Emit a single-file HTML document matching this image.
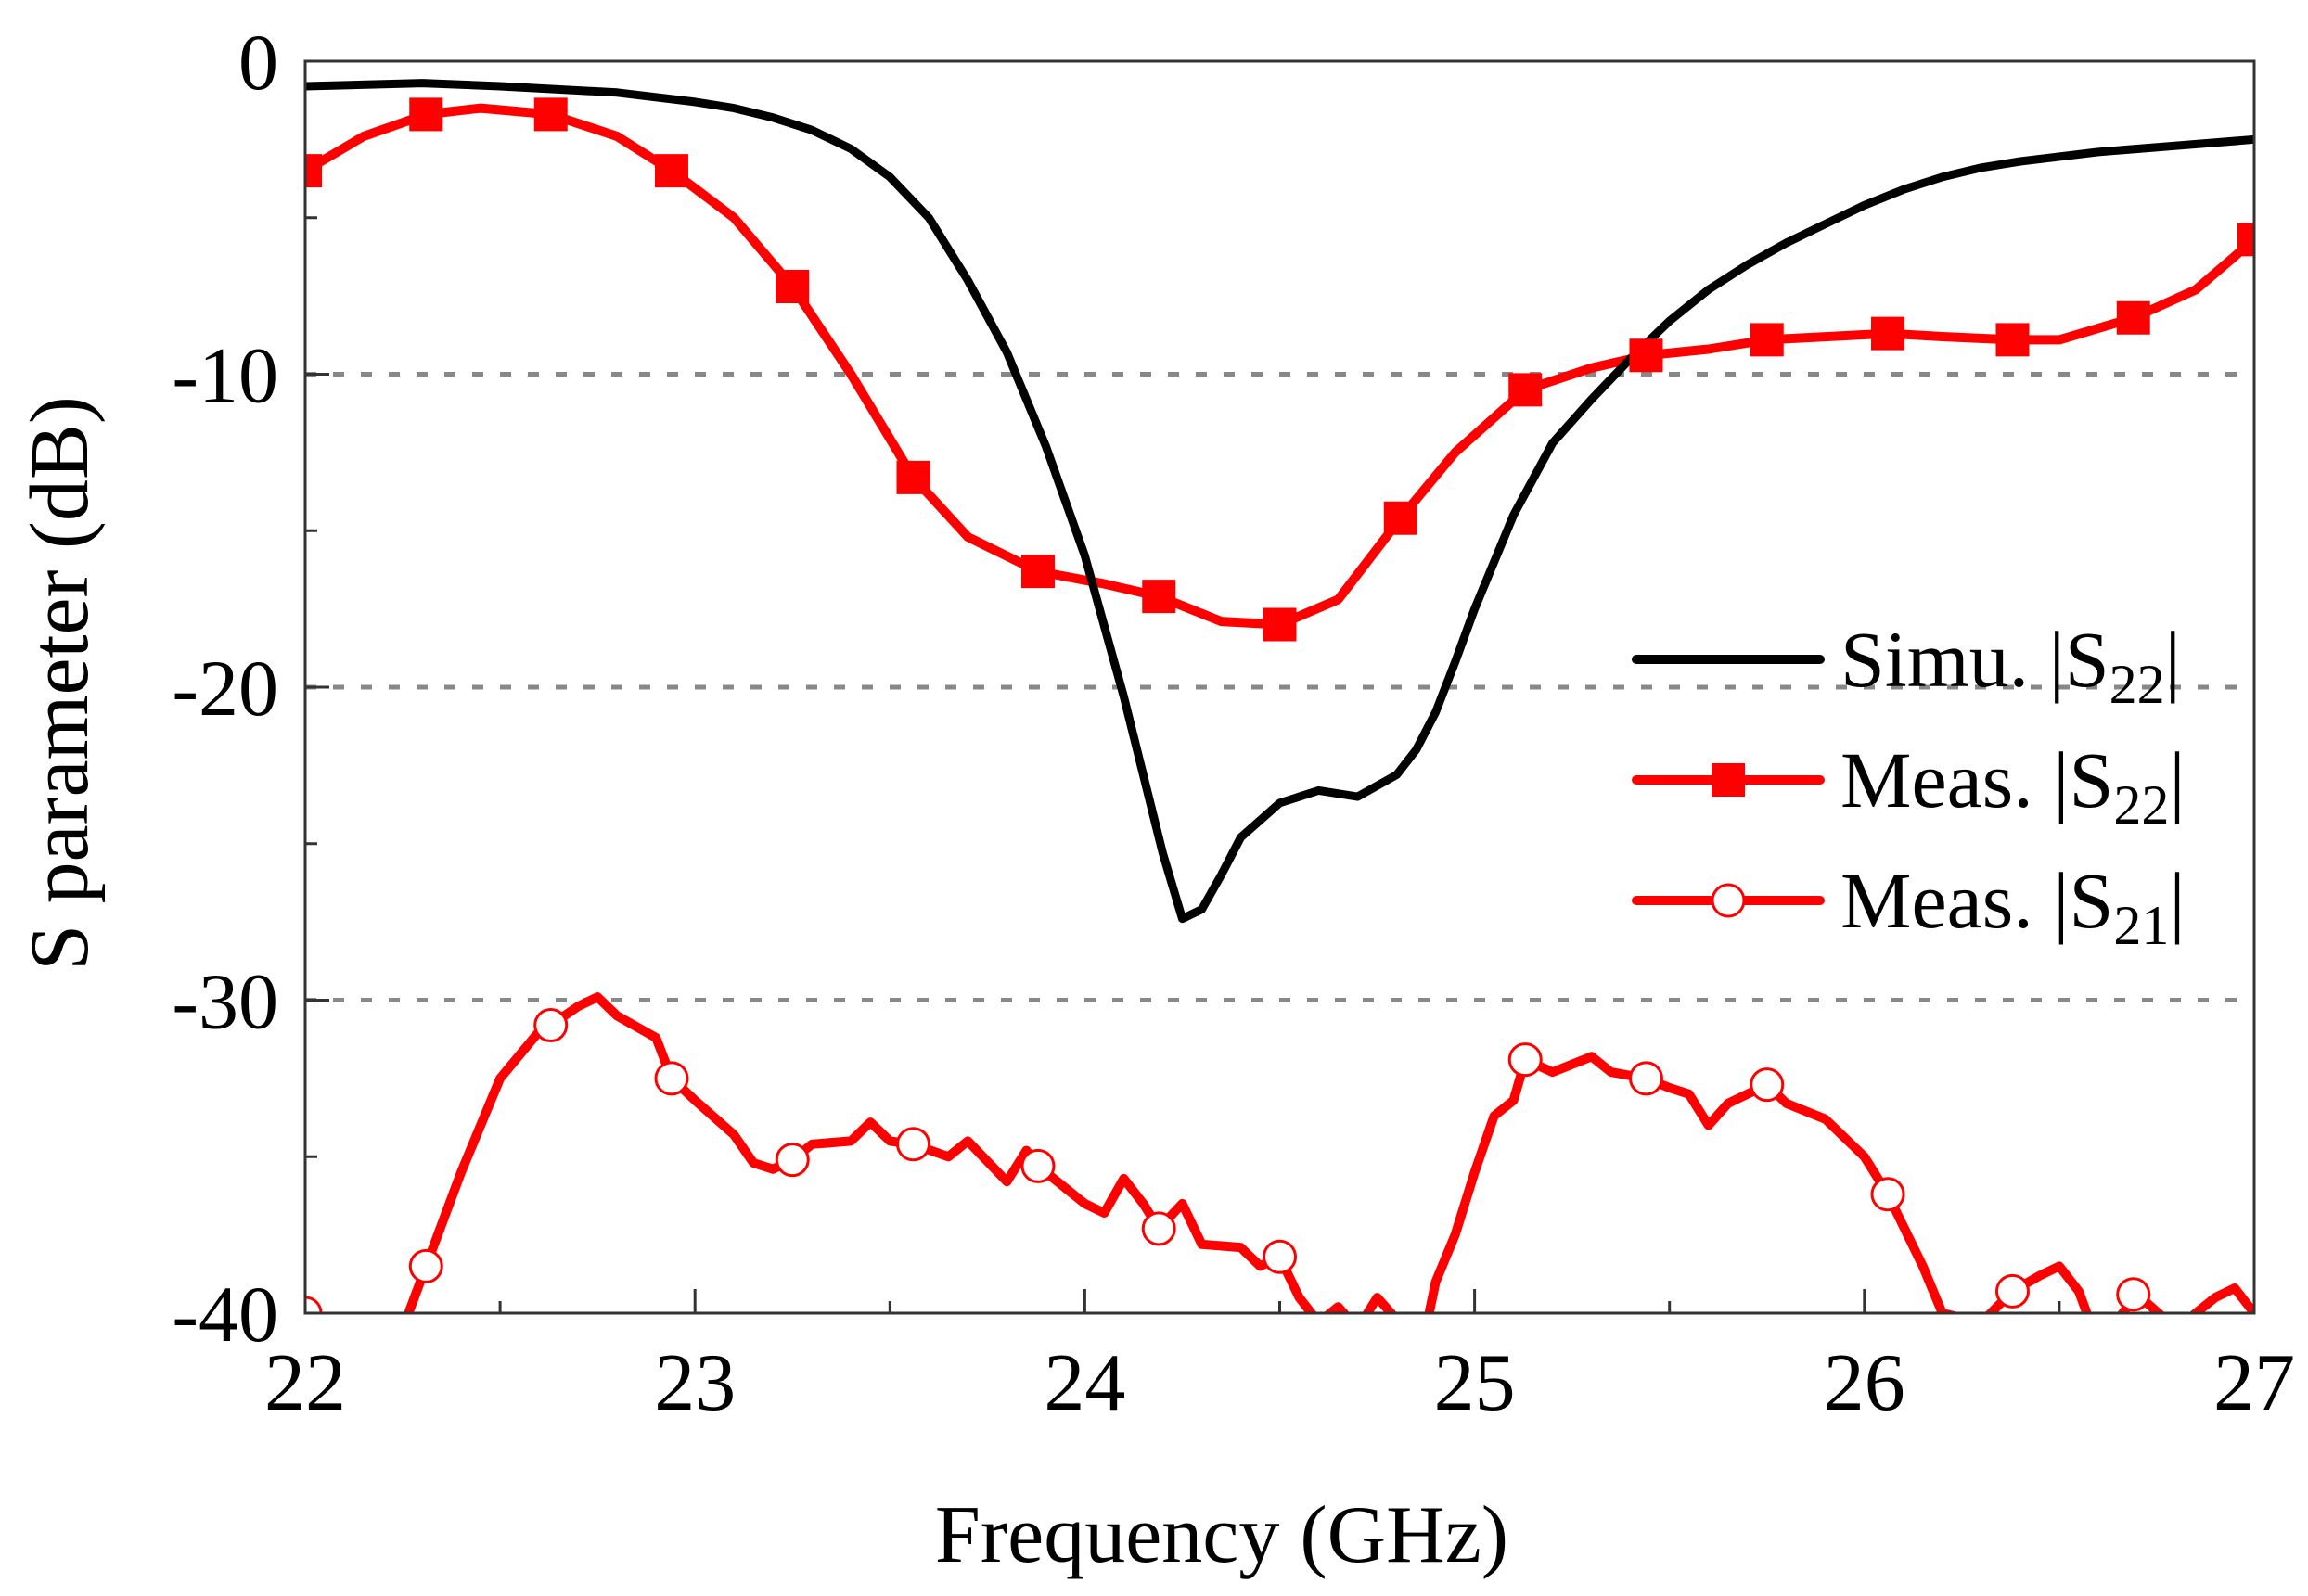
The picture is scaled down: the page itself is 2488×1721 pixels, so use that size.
<!DOCTYPE html>
<html><head><meta charset="utf-8"><style>
html,body{margin:0;padding:0;background:#fff;}
svg{display:block;font-family:"Liberation Serif",serif;}
</style></head><body>
<svg id="chart" width="2488" height="1721" viewBox="0 0 2488 1721">
<defs><clipPath id="clip"><rect x="329" y="66" width="2101" height="1350"/></clipPath></defs>
<g id="grid"></g>
<g id="series" clip-path="url(#clip)"></g>
<rect x="329" y="66" width="2101" height="1350" fill="none" stroke="#333" stroke-width="3"/>
<g id="axes"></g>
<text x="1317" y="1684" font-size="88" text-anchor="middle">Frequency (GHz)</text>
<text x="0" y="0" font-size="90" text-anchor="middle" transform="translate(94,737) rotate(-90)">S parameter (dB)</text>
<g>
 <g>
  <line x1="1764" y1="711" x2="1962" y2="711" stroke="#000" stroke-width="10" stroke-linecap="round"/>
  <text x="1984" y="740" font-size="86">Simu. |S<tspan font-size="60" dy="18">22</tspan><tspan dy="-18">|</tspan></text>
 </g>
 <g>
  <line x1="1764" y1="841" x2="1962" y2="841" stroke="#f00" stroke-width="10" stroke-linecap="round"/>
  <rect x="1845" y="823" width="36" height="36" fill="#f00"/>
  <text x="1984" y="870" font-size="86">Meas. |S<tspan font-size="60" dy="18">22</tspan><tspan dy="-18">|</tspan></text>
 </g>
 <g>
  <line x1="1764" y1="971" x2="1962" y2="971" stroke="#f00" stroke-width="10" stroke-linecap="round"/>
  <circle cx="1863" cy="971" r="17" fill="#fff" stroke="#f00" stroke-width="3"/>
  <text x="1984" y="1000" font-size="86">Meas. |S<tspan font-size="60" dy="18">21</tspan><tspan dy="-18">|</tspan></text>
 </g>
</g>
</svg>
<script>
const xTicks=[22,23,24,25,26,27];
const yTicks=[0,-10,-20,-30,-40];
const gridVals=[-10,-20,-30];
const simF=[22,22.3,22.5,22.8,23,23.1,23.2,23.3,23.4,23.5,23.6,23.7,23.8,23.9,24.0,24.1,24.2,24.25,24.3,24.35,24.4,24.5,24.6,24.7,24.8,24.85,24.9,24.95,25.0,25.1,25.2,25.3,25.4,25.5,25.6,25.7,25.8,25.9,26.0,26.1,26.2,26.3,26.4,26.6,26.8,27.0];
const simV=[-0.8,-0.7,-0.8,-1.0,-1.3,-1.5,-1.8,-2.2,-2.8,-3.7,-5,-7,-9.3,-12.3,-15.8,-20.3,-25.3,-27.4,-27.1,-26,-24.8,-23.7,-23.3,-23.5,-22.8,-22,-20.8,-19.2,-17.5,-14.5,-12.2,-10.8,-9.5,-8.3,-7.3,-6.5,-5.8,-5.2,-4.6,-4.1,-3.7,-3.4,-3.2,-2.9,-2.7,-2.5];
const s22F=[22,22.15,22.31,22.45,22.63,22.8,22.94,23.1,23.25,23.4,23.56,23.7,23.88,24.05,24.19,24.35,24.5,24.65,24.81,24.95,25.13,25.3,25.44,25.6,25.75,26.06,26.2,26.38,26.5,26.69,26.85,27];
const s22V=[-3.5,-2.4,-1.7,-1.5,-1.7,-2.4,-3.5,-5.0,-7.2,-10,-13.3,-15.2,-16.3,-16.7,-17.1,-17.9,-18.0,-17.2,-14.6,-12.5,-10.5,-9.8,-9.4,-9.2,-8.9,-8.7,-8.8,-8.9,-8.9,-8.2,-7.3,-5.7];
const s22MarkF=[22,22.31,22.63,22.94,23.25,23.56,23.88,24.19,24.5,24.81,25.13,25.44,25.75,26.06,26.38,26.69,27];
const s22MarkV=[-3.5,-1.7,-1.7,-3.5,-7.2,-13.3,-16.3,-17.1,-18.0,-14.6,-10.5,-9.4,-8.9,-8.7,-8.9,-8.2,-5.7];
const s21F=[22,22.1,22.2,22.25,22.31,22.4,22.5,22.6,22.63,22.7,22.75,22.8,22.9,22.94,23.0,23.1,23.15,23.2,23.25,23.3,23.4,23.45,23.5,23.56,23.65,23.7,23.8,23.85,23.88,24.0,24.05,24.1,24.15,24.19,24.25,24.3,24.4,24.45,24.5,24.55,24.6,24.65,24.7,24.75,24.8,24.85,24.9,24.95,25.0,25.05,25.1,25.13,25.2,25.3,25.35,25.44,25.5,25.55,25.6,25.65,25.75,25.8,25.9,26.0,26.06,26.15,26.2,26.3,26.38,26.45,26.5,26.55,26.6,26.7,26.8,26.85,26.9,26.95,27];
const s21V=[-40,-42,-42,-40.5,-38.5,-35.5,-32.5,-31,-30.8,-30.2,-29.9,-30.5,-31.2,-32.5,-33.2,-34.3,-35.2,-35.4,-35.1,-34.6,-34.5,-33.9,-34.5,-34.6,-35,-34.5,-35.8,-34.8,-35.3,-36.5,-36.8,-35.7,-36.5,-37.3,-36.5,-37.8,-37.9,-38.5,-38.2,-39.5,-40.3,-39.8,-40.5,-39.5,-40.2,-42,-39,-37.5,-35.5,-33.7,-33.2,-31.9,-32.3,-31.8,-32.3,-32.5,-32.8,-33,-34,-33.3,-32.7,-33.3,-33.8,-35,-36.2,-38.5,-40,-40.3,-39.3,-38.8,-38.5,-39.3,-41,-39.4,-40.5,-40,-39.5,-39.2,-40];
const s21MarkF=[22,22.31,22.63,22.94,23.25,23.56,23.88,24.19,24.5,25.13,25.44,25.75,26.06,26.38,26.69];
const s21MarkV=[-40,-38.5,-30.8,-32.5,-35.1,-34.6,-35.3,-37.3,-38.2,-31.9,-32.5,-32.7,-36.2,-39.3,-39.4];

const X0=329,X1=2430,Y0=66,Y1=1416;
const sx=f=>X0+(f-22)/(27-22)*(X1-X0);
const sy=v=>Y0+(0-v)/40*(Y1-Y0);
const NS='http://www.w3.org/2000/svg';
function mk(tag,attrs,parent){const e=document.createElementNS(NS,tag);for(const k in attrs)e.setAttribute(k,attrs[k]);parent.appendChild(e);return e;}
const grid=document.getElementById('grid'),axes=document.getElementById('axes'),series=document.getElementById('series');
gridVals.forEach(v=>{const l=mk('line',{x1:X0,x2:X1,y1:sy(v),y2:sy(v),stroke:'#888','stroke-width':5,'stroke-dasharray':'12 18'},grid);

});
xTicks.forEach((t,i)=>{mk('line',{x1:sx(t),x2:sx(t),y1:Y1,y2:Y1-26,stroke:'#333','stroke-width':3},axes);
if(i<xTicks.length-1)mk('line',{x1:sx(t+0.5),x2:sx(t+0.5),y1:Y1,y2:Y1-13,stroke:'#333','stroke-width':3},axes);
const tx=mk('text',{x:sx(t),y:1520,'font-size':88,'text-anchor':'middle'},axes);tx.textContent=t;

});
yTicks.forEach((t,i)=>{mk('line',{x1:X0,x2:X0+26,y1:sy(t),y2:sy(t),stroke:'#333','stroke-width':3},axes);
if(i<yTicks.length-1)mk('line',{x1:X0,x2:X0+13,y1:sy(t-5),y2:sy(t-5),stroke:'#333','stroke-width':3},axes);
const tx=mk('text',{x:300,y:sy(t)+30,'font-size':86,'text-anchor':'end'},axes);tx.textContent=t;

});
function path(F,V,color,w,name){const d=F.map((f,i)=>(i?'L':'M')+sx(f).toFixed(1)+' '+sy(V[i]).toFixed(1)).join(' ');
const p=mk('path',{d:d,fill:'none',stroke:color,'stroke-width':w,'stroke-linejoin':'round'},series);

}
path(s21F,s21V,'#f00',10,'meas-s21-line');
path(s22F,s22V,'#f00',10,'meas-s22-line');
path(simF,simV,'#000',9,'simu-s22-line');
s22MarkF.forEach((f,i)=>{const r=mk('rect',{x:sx(f)-18,y:sy(s22MarkV[i])-18,width:36,height:36,fill:'#f00'},series);

});
s21MarkF.forEach((f,i)=>{const c=mk('circle',{cx:sx(f),cy:sy(s21MarkV[i]),r:17,fill:'#fff',stroke:'#f00','stroke-width':3},series);

});
</script>
</body></html>
